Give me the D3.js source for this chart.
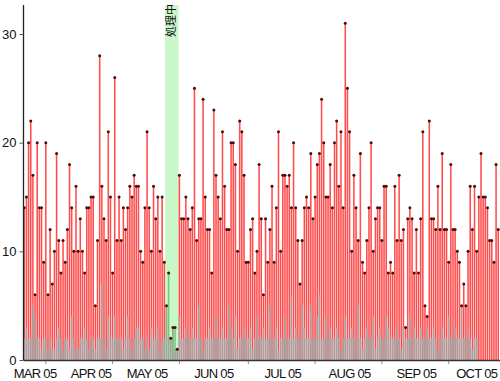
<!DOCTYPE html>
<html><head><meta charset="utf-8">
<script src="https://cdn.jsdelivr.net/npm/d3@7"></script>
<style>body{margin:0;background:#fff}svg{display:block}</style>
</head><body>
<svg id="c" width="500" height="381"></svg>
<script>
const totals = [14,15,20,22,17,6,20,14,14,9,20,6,12,7,10,19,11,8,11,9,12,18,14,10,16,10,13,10,8,14,14,15,15,5,11,28,16,13,11,21,15,8,26,11,15,11,14,12,14,16,15,17,16,16,10,9,14,21,14,10,16,13,15,10,15,9,5,8,2,3,3,1,
17,13,13,15,13,12,14,25,11,13,13,24,15,12,12,8,23,17,15,13,21,16,12,12,20,20,18,10,22,21,17,9,9,12,13,8,10,18,13,6,13,9,12,16,9,14,21,10,17,17,16,17,14,20,14,11,7,11,14,15,14,19,13,15,18,19,24,20,15,15,18,14,20,22,16,21,14,31,25,21,10,17,14,11,19,9,8,11,14,20,10,13,14,14,11,16,16,8,9,8,16,11,17,11,12,3,13,14,13,8,12,8,13,21,5,4,22,13,13,12,16,12,19,12,12,9,18,12,12,10,9,5,7,5,10,16,12,16,10,15,19,15,15,14,11,11,9,18,12];
const subset = [2,3,2,2,5,4,2,2,1,2,2,1,2,1,1,2,3,2,1,2,2,1,4,2,1,1,2,2,3,2,1,2,2,1,2,2,7,2,1,4,2,2,4,2,2,2,1,2,4,2,1,2,3,3,2,2,1,2,1,3,2,2,3,1,2,2,5,2,2,3,1,1,
4,2,2,3,2,2,3,2,2,5,2,1,2,2,3,2,2,4,2,2,3,2,2,5,3,2,4,1,2,2,3,2,2,3,1,2,4,2,2,3,2,2,5,2,2,3,1,2,2,4,2,2,6,2,3,2,2,5,3,2,2,5,2,2,4,6,2,2,4,2,3,2,2,3,2,1,2,4,2,2,3,2,2,5,2,1,2,3,2,2,4,1,2,3,2,2,4,3,2,2,2,3,2,1,3,2,2,4,2,3,2,2,3,2,2,3,2,2,3,2,1,2,3,2,2,4,2,2,3,2,2,5,2,2,3,2,1,2,2];
const yTicks = [0,10,20,30];
const monthLabels = ["MAR 05","APR 05","MAY 05","JUN 05","JUL 05","AUG 05","SEP 05","OCT 05"];
const monthLabelIdx = [5,31,57,88,120,151,182,210];
const minorTickIdx = [10,41,72,104,135,166,197];
const bandStart = 66, bandEnd = 71;
const bandLabel = "処理中";

const N = totals.length;
const svg = d3.select("#c");
const x = d3.scaleBand().domain(d3.range(N)).range([23.5, 499]).paddingInner(0.28).paddingOuter(0);
const y = d3.scaleLinear().domain([0, 32.67]).range([360, 5]);
const cx = i => x(i) + x.bandwidth()/2;

svg.append("rect").attr("x", x(bandStart)-0.5).attr("y", 5)
  .attr("width", x(bandEnd)+x.bandwidth()-x(bandStart)+1).attr("height", 355)
  .attr("fill", "#c9f7c9");

const g = svg.append("g");
g.selectAll("rect.t").data(totals).join("rect").attr("class","t")
  .attr("x",(d,i)=>x(i)).attr("width",x.bandwidth())
  .attr("y",d=>y(d)).attr("height",d=>y(0)-y(d))
  .attr("fill",(d,i)=> i>=bandStart&&i<=bandEnd ? "#6fcf6f" : "#ff4c4c");
g.selectAll("rect.s").data(subset).join("rect").attr("class","s")
  .attr("x",(d,i)=>x(i)).attr("width",x.bandwidth())
  .attr("y",d=>y(d)).attr("height",d=>y(0)-y(d))
  .attr("fill","#a3a3a3");
g.selectAll("circle").data(totals).join("circle")
  .attr("cx",(d,i)=>cx(i)).attr("cy",d=>y(d)).attr("r",1.5)
  .attr("fill","#4a0c0c");

svg.append("text").attr("transform",`translate(${cx(68)+4},4) rotate(-90)`)
  .attr("text-anchor","end").attr("font-family","Noto Sans CJK JP").attr("font-size",11)
  .attr("fill","#111").text(bandLabel);

const ya = svg.append("g").attr("transform","translate(23.5,0)")
  .call(d3.axisLeft(y).tickValues(yTicks).tickSize(4).tickFormat(d3.format("d")));
ya.select(".domain").attr("stroke","#222").attr("stroke-width",1.3).attr("d","M0,5V360");
ya.selectAll(".tick line").attr("stroke","#555");
ya.selectAll("text").attr("font-family","Liberation Sans, Arial").attr("font-size",13).attr("fill","#111");

svg.append("line").attr("x1",23.5).attr("x2",500).attr("y1",360.5).attr("y2",360.5).attr("stroke","#333").attr("stroke-width",1.3);
svg.selectAll("line.mt").data(minorTickIdx).join("line").attr("class","mt")
  .attr("x1",d=>cx(d)).attr("x2",d=>cx(d)).attr("y1",361).attr("y2",364).attr("stroke","#888");
svg.selectAll("text.ml").data(monthLabels).join("text").attr("class","ml")
  .attr("x",(d,i)=>cx(monthLabelIdx[i])).attr("y",378).attr("text-anchor","middle")
  .attr("font-family","Liberation Sans, Arial").attr("font-size",13).attr("letter-spacing","-0.7px")
  .attr("fill","#111").text(d=>d);
</script>
</body></html>
